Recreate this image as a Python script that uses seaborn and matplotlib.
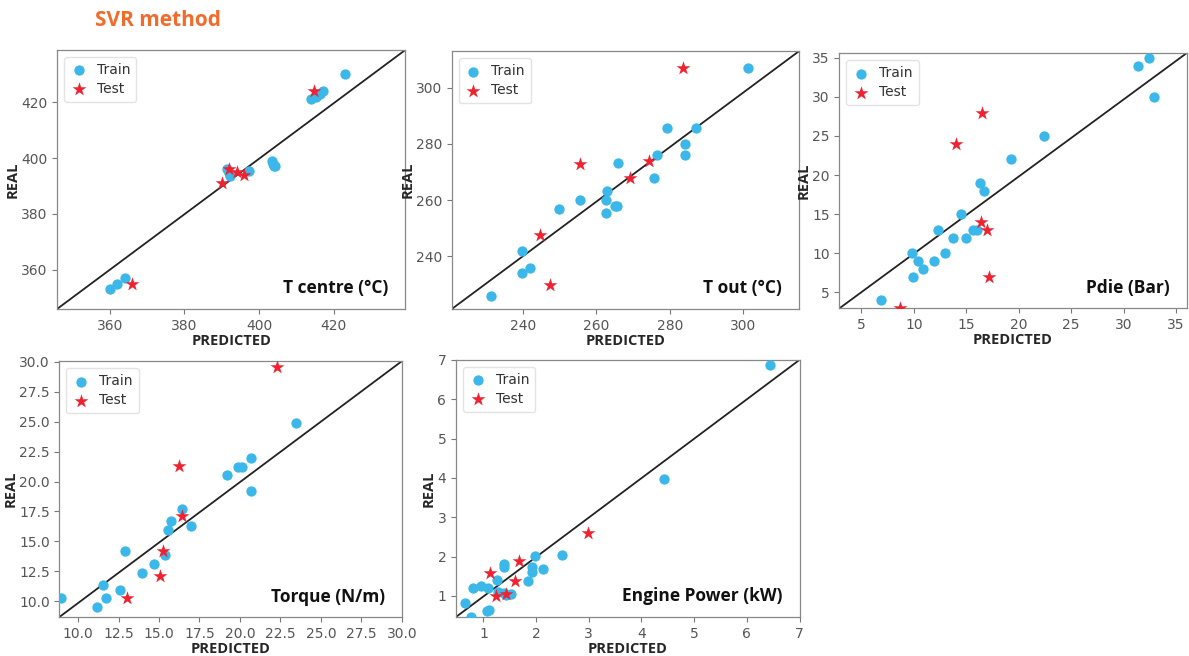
import matplotlib
matplotlib.use("Agg")
import matplotlib.pyplot as plt
from matplotlib.ticker import MultipleLocator, FormatStrFormatter
import seaborn as sns
import pandas as pd

# ---------------- dados ----------------
# T centre (°C)
tc_train_pred = [360, 362, 364, 391.5, 392.3, 392, 397.2, 403.5, 403.8, 404, 404.2, 414, 415.2, 416.3, 417, 423]
tc_train_real = [353, 355, 357, 396, 393.5, 394.5, 395.2, 399, 398, 397.3, 397, 421, 422, 423, 424, 430]
tc_test_pred = [366, 390, 392, 394, 396, 414.6]
tc_test_real = [355, 391, 396, 395, 394, 424]

# T out (°C)
to_train_pred = [231.4, 239.7, 242.0, 239.7, 249.9, 255.4, 262.6, 262.7, 262.9, 265.0, 265.5,
                 266.0, 275.8, 276.4, 279.2, 284.1, 284.1, 287.0, 301.4]
to_train_real = [226.0, 234.1, 235.9, 241.9, 256.9, 259.9, 255.4, 259.9, 263.1, 257.8, 258.0,
                 273.4, 267.9, 275.9, 285.8, 279.9, 275.9, 285.8, 306.9]
to_test_pred = [244.6, 247.4, 255.4, 269.2, 274.3, 283.5]
to_test_real = [247.7, 230.0, 272.9, 267.8, 274.0, 306.9]

# Pdie (Bar)
pd_train_pred = [6.9, 9.9, 9.8, 10.4, 10.9, 11.9, 12.3, 13.0, 13.7, 14.5, 15.0, 15.6, 16.0,
                 16.3, 16.7, 19.3, 22.4, 31.4, 32.4, 32.9]
pd_train_real = [4, 7, 10, 9, 8, 9, 13, 10, 12, 15, 12, 13, 13, 19, 18, 22, 25, 34, 35, 30]
pd_test_pred = [8.7, 14.0, 16.5, 16.4, 17.0, 17.2]
pd_test_real = [3.05, 24, 28, 14, 13, 7]

# Torque (N/m)
tq_train_pred = [8.97, 11.15, 11.54, 11.70, 12.57, 12.90, 13.96, 14.68, 15.38, 15.53, 15.77,
                 16.41, 16.96, 19.22, 19.90, 20.14, 20.68, 20.68, 23.43]
tq_train_real = [10.28, 9.55, 11.39, 10.28, 10.98, 14.21, 12.40, 13.09, 13.84, 15.93, 16.69,
                 17.74, 16.30, 20.56, 21.25, 21.25, 21.98, 19.19, 24.85]
tq_test_pred = [13.00, 15.07, 15.26, 16.41, 16.24, 22.30]
tq_test_real = [10.28, 12.09, 14.21, 17.10, 21.28, 29.53]

# Engine Power (kW)
ep_train_pred = [0.66, 0.76, 0.80, 0.96, 1.08, 1.06, 1.11, 1.25, 1.27, 1.39, 1.39, 1.40, 1.43,
                 1.52, 1.84, 1.92, 1.93, 1.97, 2.14, 2.50, 4.42, 6.44]
ep_train_real = [0.82, 0.47, 1.21, 1.25, 1.19, 0.61, 0.63, 1.40, 1.10, 1.08, 1.82, 1.74, 1.02,
                 1.06, 1.37, 1.74, 1.61, 2.02, 1.68, 2.04, 3.96, 6.86]
ep_test_pred = [1.13, 1.24, 1.43, 1.60, 1.68, 2.99]
ep_test_real = [1.59, 1.00, 1.05, 1.39, 1.89, 2.61]

panels = [
    ("T centre (°C)", tc_train_pred, tc_train_real, tc_test_pred, tc_test_real, (345.9, 439.2), (346, 438.7)),
    ("T out (°C)", to_train_pred, to_train_real, to_test_pred, to_test_real, (220.6, 315.2), (221.3, 313)),
    ("Pdie (Bar)", pd_train_pred, pd_train_real, pd_test_pred, pd_test_real, (2.9, 36), (2.95, 35.6)),
    ("Torque (N/m)", tq_train_pred, tq_train_real, tq_test_pred, tq_test_real, (8.85, 30), (8.69, 30.05)),
    ("Engine Power (kW)", ep_train_pred, ep_train_real, ep_test_pred, ep_test_real, (0.48, 7), (0.465, 7)),
]

# posições dos eixos (fração da figura)
positions = [
    [0.048, 0.529, 0.293, 0.395],
    [0.380, 0.529, 0.292, 0.393],
    [0.706, 0.530, 0.292, 0.389],
    [0.050, 0.0595, 0.288, 0.390],
    [0.3835, 0.0595, 0.289, 0.392],
]

sns.set_style("ticks")
plt.rcParams["font.family"] = ["DejaVu Sans"]

TRAIN_COLOR = "#3BB7EA"
TEST_COLOR = "#EE2230"
LABEL_FONT = "Open Sans"

fig = plt.figure(figsize=(11.89, 6.56), dpi=100)

for i, ((name, trp, trr, tep, ter, xl, yl), pos) in enumerate(zip(panels, positions)):
    ax = fig.add_axes(pos)
    train = pd.DataFrame({"pred": trp, "real": trr})
    test = pd.DataFrame({"pred": tep, "real": ter})
    sns.scatterplot(data=train, x="pred", y="real", ax=ax, color=TRAIN_COLOR,
                    s=55, linewidth=0, label="Train", zorder=3)
    sns.scatterplot(data=test, x="pred", y="real", ax=ax, color=TEST_COLOR,
                    marker="*", s=110, linewidth=0, label="Test", zorder=4)
    ax.plot([0, 1], [0, 1], transform=ax.transAxes, color="#222222", lw=1.3, zorder=2)
    ax.set_xlim(xl)
    ax.set_ylim(yl)
    if name.startswith("Torque"):
        ax.xaxis.set_major_locator(MultipleLocator(2.5))
        ax.xaxis.set_major_formatter(FormatStrFormatter("%.1f"))
    ax.set_xlabel("PREDICTED", fontsize=10.5, fontweight="bold", family=LABEL_FONT, labelpad=1)
    ax.set_ylabel("REAL", fontsize=10.5, fontweight="bold", family=LABEL_FONT, labelpad=1)
    ax.tick_params(labelsize=10, colors="#555555", length=3.5)
    ax.tick_params(axis="both", which="both", color="#777777")
    for sp in ax.spines.values():
        sp.set_color("#888888")
        sp.set_linewidth(0.9)
    ax.text(0.95, 0.08, name, transform=ax.transAxes, ha="right", va="center",
            fontsize=12.5, fontweight="bold", family=LABEL_FONT, color="#111111")
    leg = ax.legend(loc="upper left", fontsize=10, frameon=True, borderpad=0.45,
                    handlelength=1.2, handletextpad=0.7, labelspacing=0.35)
    leg.get_frame().set_edgecolor("#dddddd")
    for t in leg.get_texts():
        t.set_color("#333333")

fig.text(0.08, 0.968, "SVR method", fontsize=15, fontweight="bold", family=LABEL_FONT,
         color="#F26B2A", ha="left", va="center")

fig.savefig("out.png", dpi=100)
